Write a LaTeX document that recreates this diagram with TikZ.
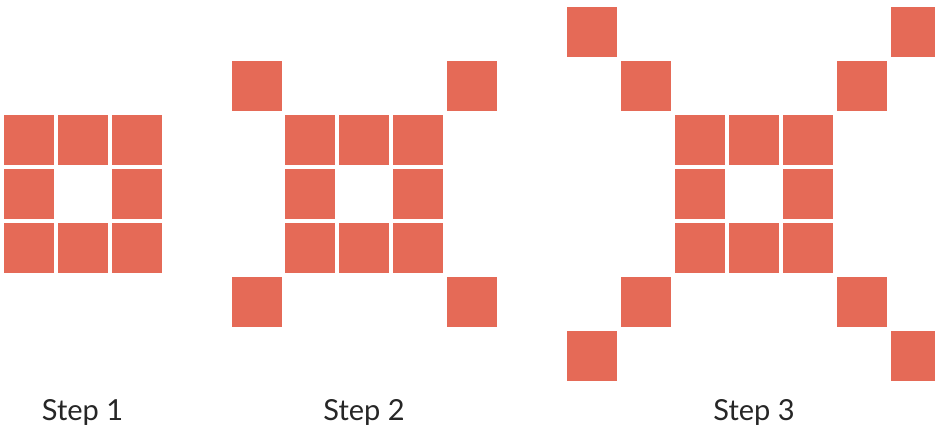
\documentclass[tikz,border=0pt]{standalone}
\usepackage{fontspec}
\setmainfont{Lato}
\usepackage{tikz}

\definecolor{tilered}{RGB}{229,106,87}

\begin{document}
\begin{tikzpicture}[x=1pt, y=-1pt,
    tile/.style={fill=tilered},
    steplabel/.style={anchor=base, font=\fontsize{29}{34}\selectfont, text=black!85}]
      \useasboundingbox (0,0) rectangle (935,429);

      % the 3x3 ring in each step
      \foreach \ox in {4, 285, 675} {
        \foreach \i/\j in {0/0,1/0,2/0,0/1,2/1,0/2,1/2,2/2} {
          \fill[tile] ({\ox + 54*\i}, {115 + 54*\j}) rectangle +(50, 50);
        }
      }

      % corners of step 2
      \foreach \x/\y in {232/61, 447/61, 232/277, 447/277} {
        \fill[tile] (\x, \y) rectangle +(50, 50);
      }

      % diagonals of step 3
      \foreach \x/\y in {621/61, 567/7, 837/61, 891/7, 621/277, 567/331, 837/277, 891/331} {
        \fill[tile] (\x, \y) rectangle +(50, 50);
      }

      \node[steplabel] (step1) at (82.5, 420) {Step 1};
      \node[steplabel] (step2) at (364, 420) {Step 2};
      \node[steplabel] (step3) at (754, 420) {Step 3};
    \end{tikzpicture}
\end{document}
